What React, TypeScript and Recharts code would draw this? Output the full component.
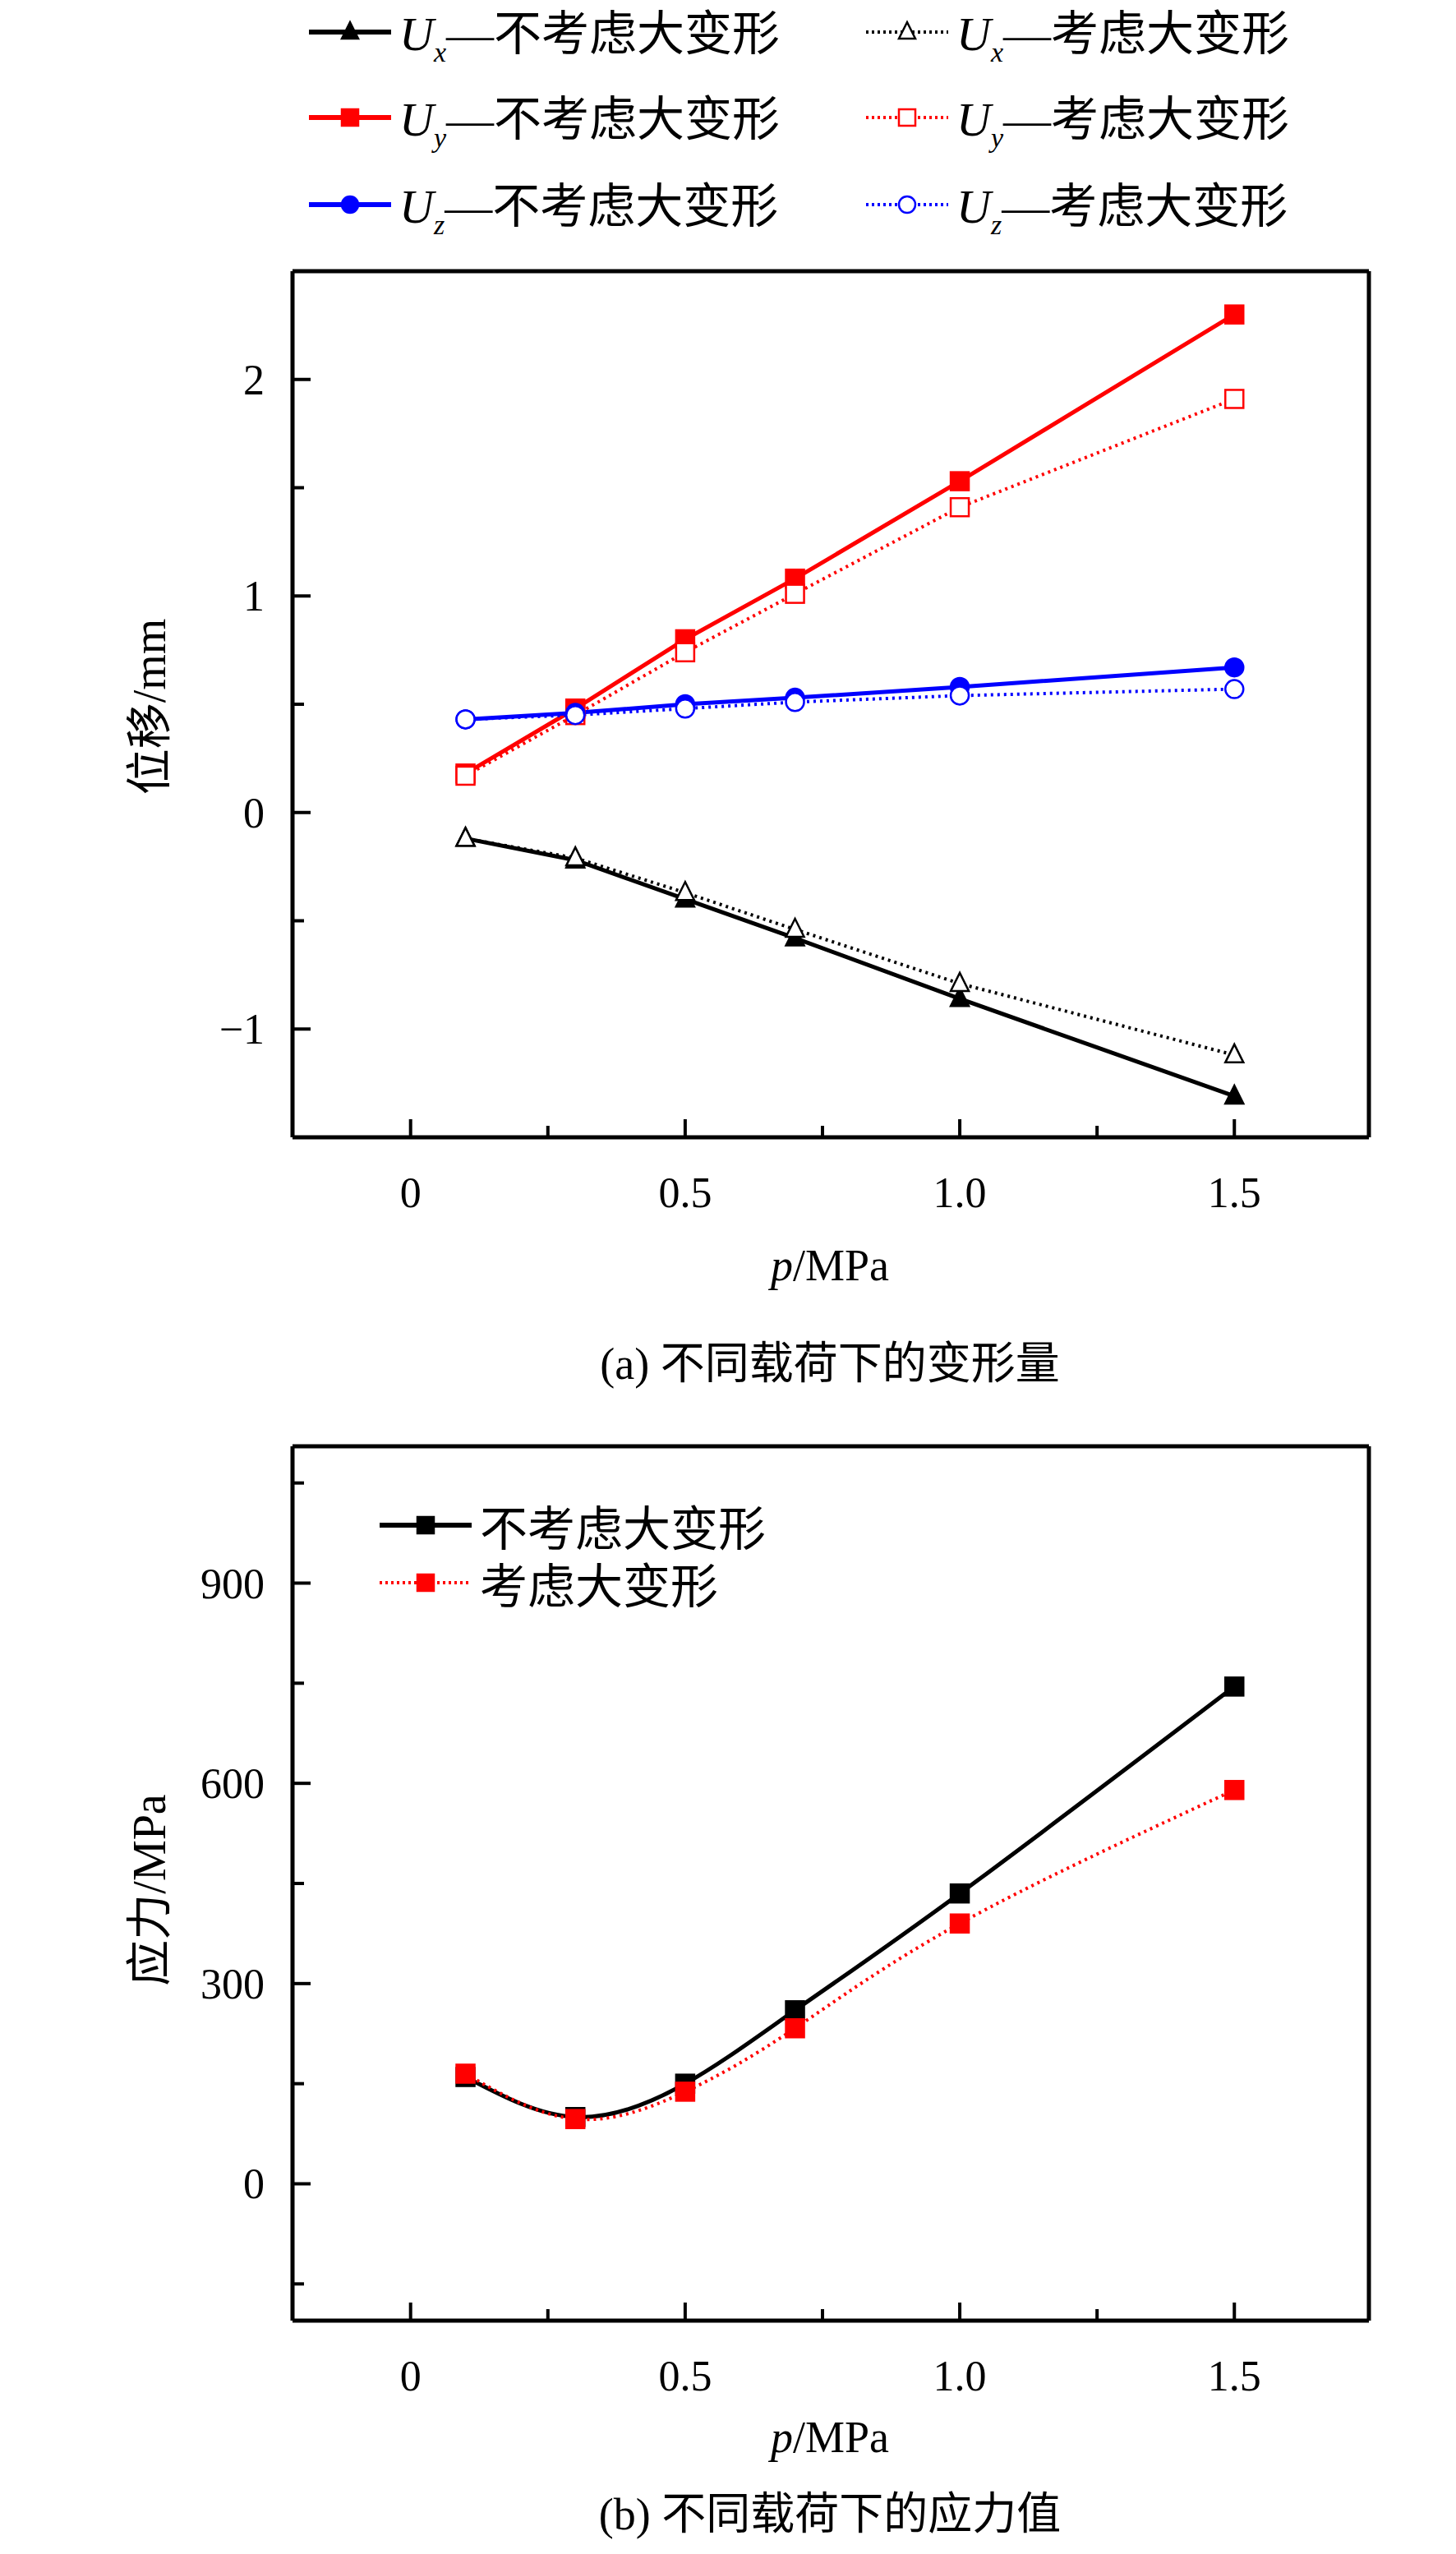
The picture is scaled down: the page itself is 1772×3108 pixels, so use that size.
import React from "react";
import { LineChart, Line, XAxis, YAxis } from "recharts";

const pressure = [0.1, 0.3, 0.5, 0.7, 1.0, 1.5];
const uxNoLarge = [-0.12, -0.22, -0.4, -0.58, -0.86, -1.31];
const uxLarge = [-0.12, -0.21, -0.37, -0.54, -0.79, -1.12];
const uyNoLarge = [0.18, 0.48, 0.8, 1.08, 1.53, 2.3];
const uyLarge = [0.17, 0.45, 0.74, 1.01, 1.41, 1.91];
const uzNoLarge = [0.43, 0.46, 0.5, 0.53, 0.58, 0.67];
const uzLarge = [0.43, 0.45, 0.48, 0.51, 0.54, 0.57];
const stressNoLarge = [160, 100, 150, 260, 435, 745];
const stressLarge = [165, 97, 138, 233, 390, 590];

const xTicks = [0, 0.25, 0.5, 0.75, 1.0, 1.25, 1.5];
const xLabels: Record<string, string> = { "0": "0", "0.5": "0.5", "1": "1.0", "1.5": "1.5" };
const yTicksA = [-1, -0.5, 0, 0.5, 1, 1.5, 2];
const yLabelsA: Record<string, string> = { "-1": "\u22121", "0": "0", "1": "1", "2": "2" };
const yTicksB = [-150, 0, 150, 300, 450, 600, 750, 900, 1050];
const yLabelsB: Record<string, string> = { "0": "0", "300": "300", "600": "600", "900": "900" };

const dispData = pressure.map((p, i) => ({
  p,
  uxN: uxNoLarge[i],
  uxL: uxLarge[i],
  uyN: uyNoLarge[i],
  uyL: uyLarge[i],
  uzN: uzNoLarge[i],
  uzL: uzLarge[i],
}));
const stressData = pressure.map((p, i) => ({ p, n: stressNoLarge[i], l: stressLarge[i] }));

const SERIF = '"Liberation Serif", "Times New Roman", serif';
const CJK = '"Liberation Serif", "Noto Sans CJK SC", serif';
const RED = "#ff0000";
const BLUE = "#0000ff";

function Marker({ shape, cx, cy, color, filled, size = 22 }: any) {
  const fill = filled ? color : "#fff";
  const h = size / 2;
  if (shape === "tri")
    return <polygon points={`${cx},${cy - h - 2} ${cx - h},${cy + h - 2} ${cx + h},${cy + h - 2}`} fill={fill} stroke={color} strokeWidth={2.5} />;
  if (shape === "sq")
    return <rect x={cx - h} y={cy - h} width={size} height={size} fill={fill} stroke={color} strokeWidth={2.5} />;
  return <circle cx={cx} cy={cy} r={h} fill={fill} stroke={color} strokeWidth={2.5} />;
}

const dot = (shape: string, color: string, filled: boolean) => (props: any) => (
  <Marker key={`${shape}-${props.index}-${filled}`} shape={shape} cx={props.cx} cy={props.cy} color={color} filled={filled} />
);

const xTick = (props: any) => {
  const { x, y, payload } = props;
  const lab = xLabels[String(payload.value)];
  return (
    <g>
      <line x1={x} x2={x} y1={y} y2={y - (lab ? 22 : 14)} stroke="#000" strokeWidth={4} />
      {lab && (
        <text x={x} y={y + 85} textAnchor="middle" fontSize={52} fontFamily={SERIF} fill="#000">
          {lab}
        </text>
      )}
    </g>
  );
};

const yTick = (labels: Record<string, string>) => (props: any) => {
  const { x, y, payload } = props;
  const lab = labels[String(payload.value)];
  return (
    <g>
      <line x1={x} x2={x + (lab ? 22 : 14)} y1={y} y2={y} stroke="#000" strokeWidth={4} />
      {lab && (
        <text x={x - 34} y={y + 18} textAnchor="end" fontSize={52} fontFamily={SERIF} fill="#000">
          {lab}
        </text>
      )}
    </g>
  );
};

function Frame({ yTicks, yLabels, domain }: any) {
  return [
    <XAxis key="xb" xAxisId="b" dataKey="p" type="number" domain={[-0.215, 1.745]} allowDataOverflow ticks={xTicks} interval={0} tickSize={0} tickMargin={0} tickLine={false} tick={xTick} height={1} axisLine={{ stroke: "#000", strokeWidth: 5 }} />,
    <XAxis key="xt" xAxisId="t" orientation="top" dataKey="p" type="number" domain={[-0.215, 1.745]} allowDataOverflow tick={false} tickLine={false} height={1} axisLine={{ stroke: "#000", strokeWidth: 5 }} />,
    <YAxis key="yl" yAxisId="l" type="number" domain={domain} allowDataOverflow ticks={yTicks} interval={0} tickSize={0} tickMargin={0} tickLine={false} tick={yTick(yLabels)} width={1} axisLine={{ stroke: "#000", strokeWidth: 5 }} />,
    <YAxis key="yr" yAxisId="r" orientation="right" type="number" domain={domain} allowDataOverflow tick={false} tickLine={false} width={1} axisLine={{ stroke: "#000", strokeWidth: 5 }} />,
  ];
}

function LegendItem({ left, top, color, dashed, shape, filled, children, lineW = 104 }: any) {
  return (
    <div style={{ position: "absolute", left, top, display: "flex", alignItems: "center", whiteSpace: "nowrap" }}>
      <svg width={lineW} height={40}>
        <line x1={2} x2={lineW - 2} y1={20} y2={20} stroke={color} strokeWidth={dashed ? 4 : 6} strokeDasharray={dashed ? "3 4" : undefined} />
        <Marker shape={shape} cx={lineW / 2} cy={20} color={color} filled={filled} size={20} />
      </svg>
      <span style={{ marginLeft: 8, fontSize: 58, fontFamily: CJK, color: "#000" }}>{children}</span>
    </div>
  );
}

const U = (sub: string, rest: string) => (
  <>
    <i>U</i>
    <i style={{ fontSize: 34, verticalAlign: -14 }}>{sub}</i>
    {rest}
  </>
);

export default function App() {
  const line = (key: string, color: string, dashed: boolean, shape: string, filled: boolean, type: any = "linear") => (
    <Line
      key={key}
      xAxisId="b"
      yAxisId="l"
      dataKey={key}
      type={type}
      stroke={color}
      strokeWidth={dashed ? 4 : 5}
      strokeDasharray={dashed ? "3 5" : undefined}
      dot={dot(shape, color, filled)}
      isAnimationActive={false}
    />
  );
  return (
    <div style={{ position: "absolute", left: 0, top: 0, width: 1772, height: 3108, background: "#fff" }}>
      <LegendItem left={374} top={-6} color="#000" shape="tri" filled>{U("x", "\u2014不考虑大变形")}</LegendItem>
      <LegendItem left={1052} top={-6} color="#000" shape="tri" filled={false} dashed>{U("x", "\u2014考虑大变形")}</LegendItem>
      <LegendItem left={374} top={98} color={RED} shape="sq" filled>{U("y", "\u2014不考虑大变形")}</LegendItem>
      <LegendItem left={1052} top={98} color={RED} shape="sq" filled={false} dashed>{U("y", "\u2014考虑大变形")}</LegendItem>
      <LegendItem left={374} top={204} color={BLUE} shape="ci" filled>{U("z", "\u2014不考虑大变形")}</LegendItem>
      <LegendItem left={1052} top={204} color={BLUE} shape="ci" filled={false} dashed>{U("z", "\u2014考虑大变形")}</LegendItem>

      <div style={{ position: "absolute", left: 0, top: 0 }}>
        <LineChart width={1772} height={1500} data={dispData} margin={{ top: 329, left: 355, right: 105, bottom: 115 }}>
          {Frame({ yTicks: yTicksA, yLabels: yLabelsA, domain: [-1.5, 2.5] })}
          {line("uxN", "#000", false, "tri", true)}
          {line("uxL", "#000", true, "tri", false)}
          {line("uyN", RED, false, "sq", true)}
          {line("uyL", RED, true, "sq", false)}
          {line("uzN", BLUE, false, "ci", true)}
          {line("uzL", BLUE, true, "ci", false)}
        </LineChart>
      </div>
      <div style={{ position: "absolute", left: 176, top: 860, transform: "translate(-50%,-50%) rotate(-90deg)", fontSize: 56, fontFamily: CJK, whiteSpace: "nowrap" }}>位移/mm</div>
      <div style={{ position: "absolute", left: 1010, top: 1540, transform: "translate(-50%,-50%)", fontSize: 54, fontFamily: SERIF, whiteSpace: "nowrap" }}><i>p</i>/MPa</div>
      <div style={{ position: "absolute", left: 1010, top: 1654, transform: "translate(-50%,-50%)", fontSize: 54, fontFamily: CJK, whiteSpace: "nowrap" }}>(a) 不同载荷下的变形量</div>

      <div style={{ position: "absolute", left: 0, top: 1500 }}>
        <LineChart width={1772} height={1500} data={stressData} margin={{ top: 259, left: 355, right: 105, bottom: 175 }}>
          {Frame({ yTicks: yTicksB, yLabels: yLabelsB, domain: [-205, 1105] })}
          {line("n", "#000", false, "sq", true, "natural")}
          {line("l", RED, true, "sq", true, "natural")}
        </LineChart>
      </div>
      <LegendItem left={460} top={1814} color="#000" shape="sq" filled lineW={116}>不考虑大变形</LegendItem>
      <LegendItem left={460} top={1884} color={RED} shape="sq" filled dashed lineW={116}>考虑大变形</LegendItem>
      <div style={{ position: "absolute", left: 176, top: 2300, transform: "translate(-50%,-50%) rotate(-90deg)", fontSize: 56, fontFamily: CJK, whiteSpace: "nowrap" }}>应力/MPa</div>
      <div style={{ position: "absolute", left: 1010, top: 2966, transform: "translate(-50%,-50%)", fontSize: 54, fontFamily: SERIF, whiteSpace: "nowrap" }}><i>p</i>/MPa</div>
      <div style={{ position: "absolute", left: 1010, top: 3054, transform: "translate(-50%,-50%)", fontSize: 54, fontFamily: CJK, whiteSpace: "nowrap" }}>(b) 不同载荷下的应力值</div>
    </div>
  );
}
